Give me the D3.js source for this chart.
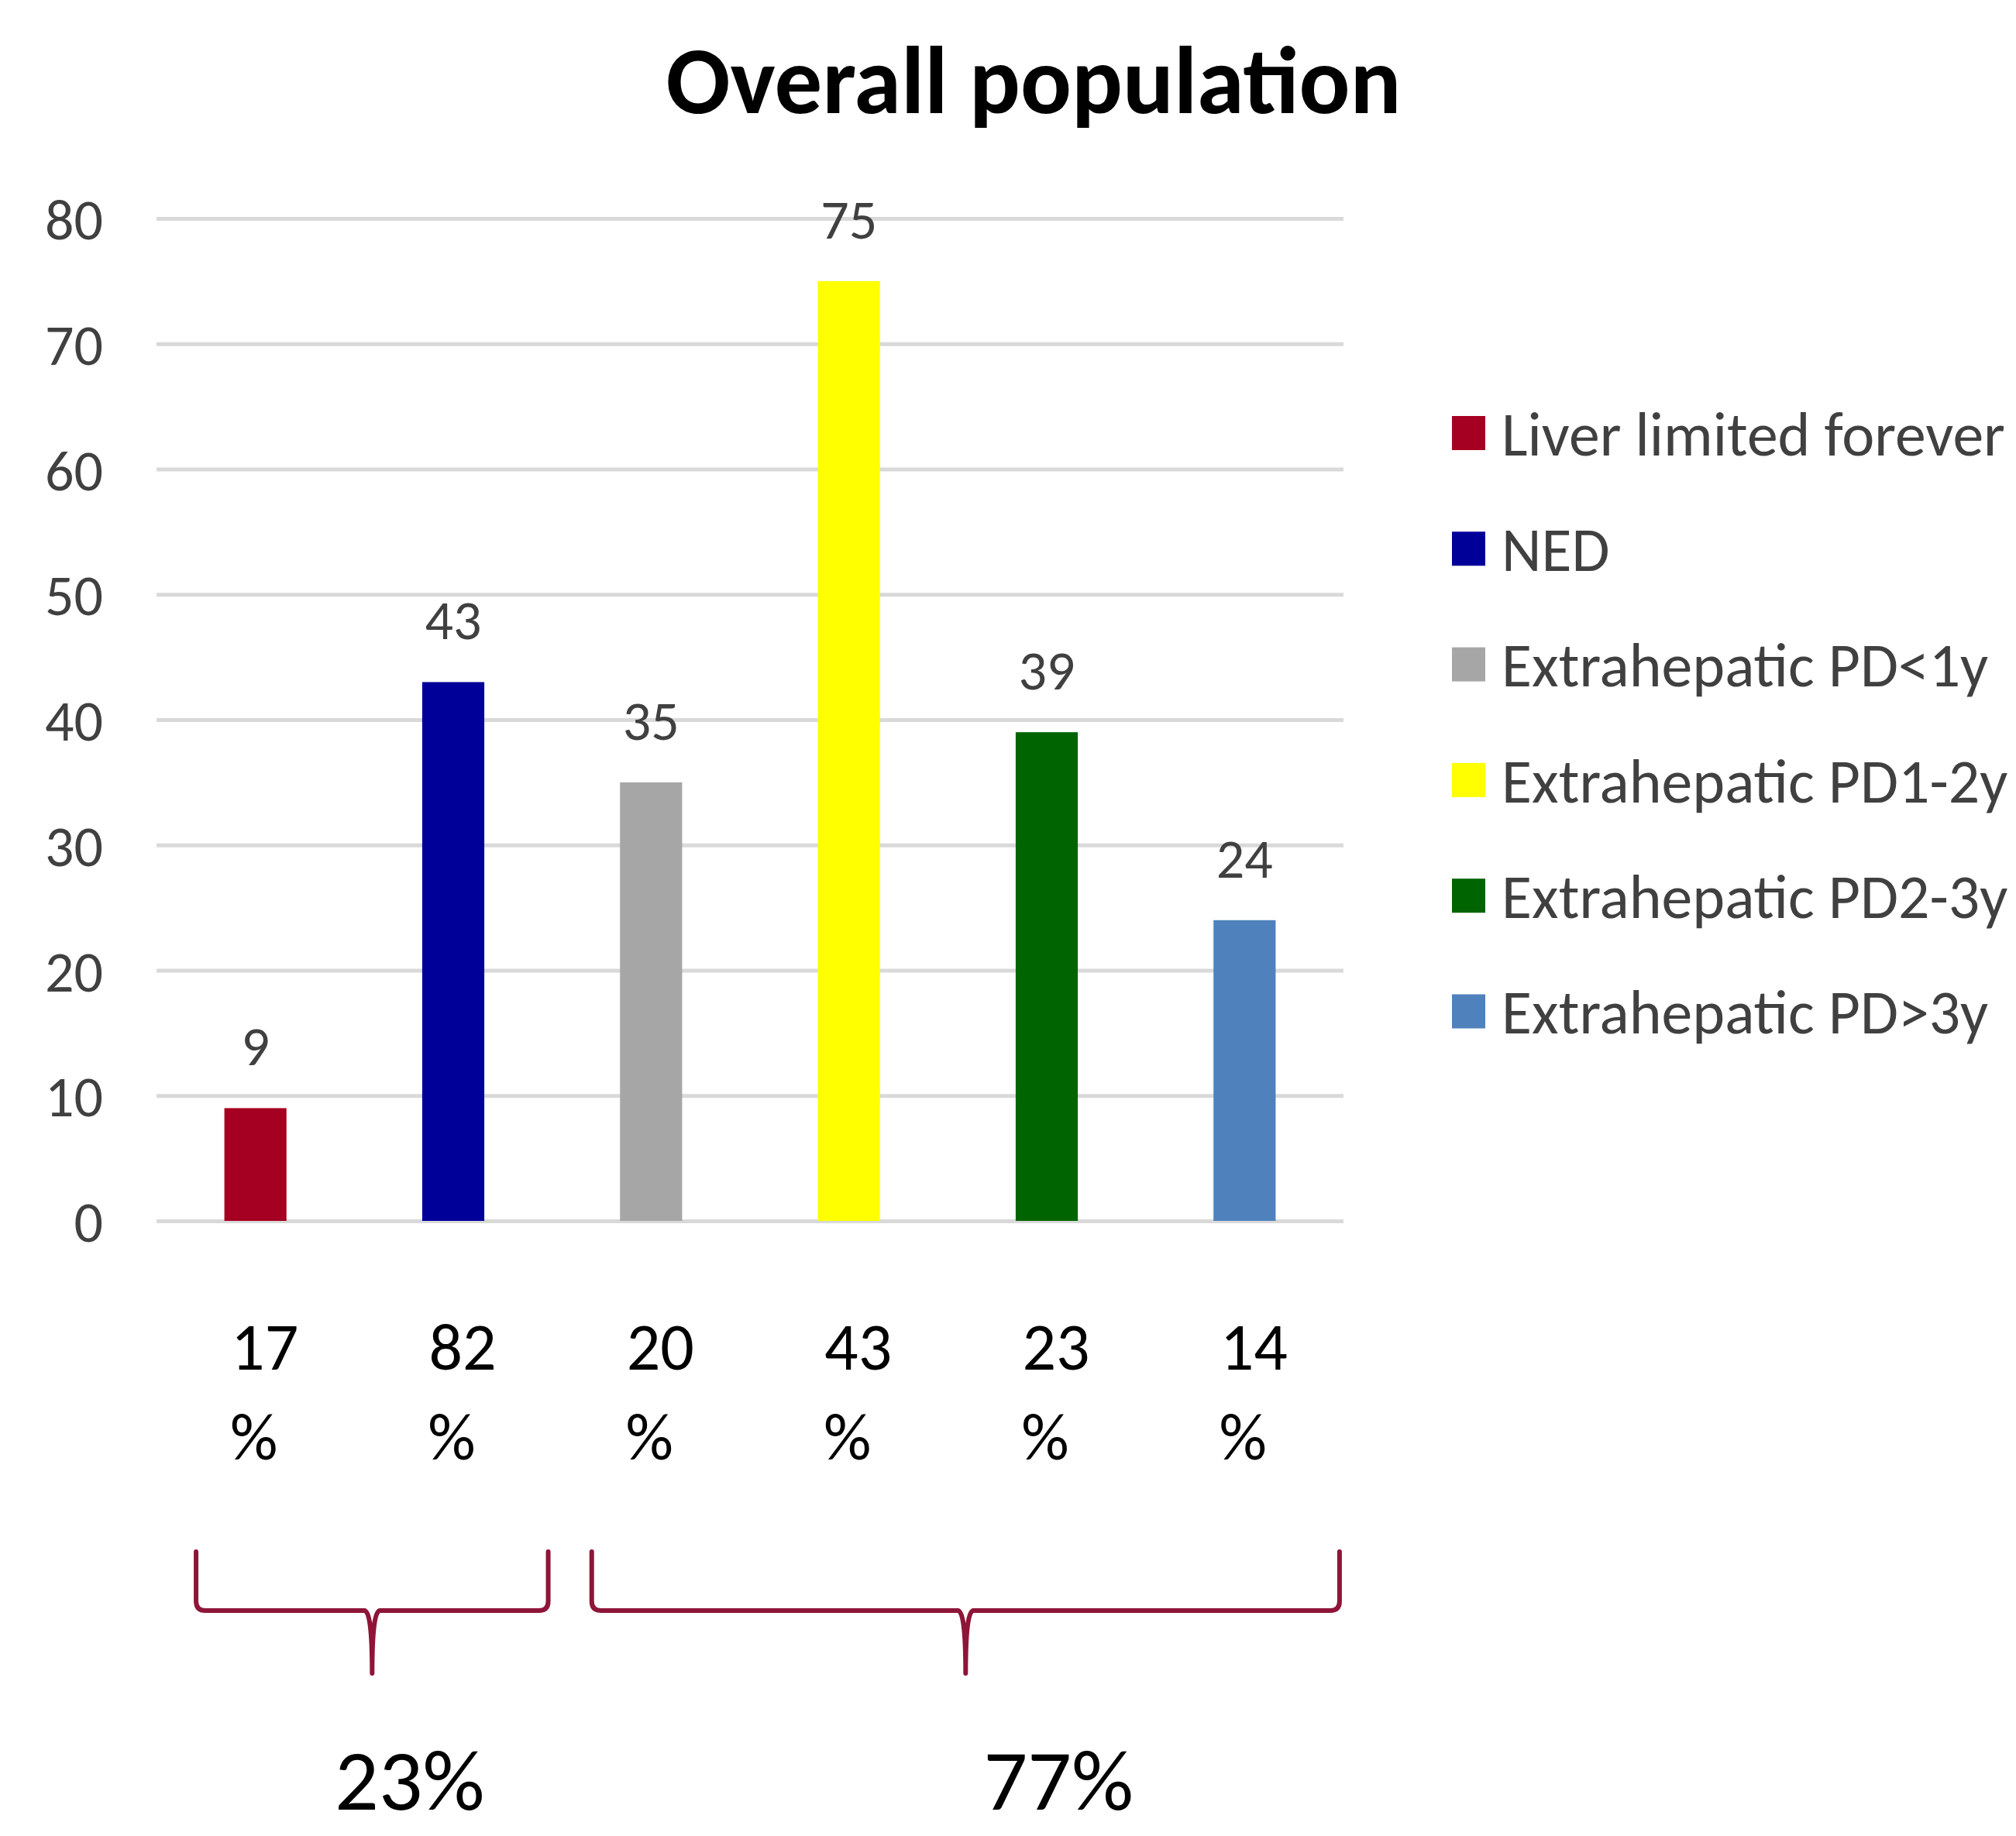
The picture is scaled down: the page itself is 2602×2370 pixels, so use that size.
<!DOCTYPE html>
<html>
<head>
<meta charset="utf-8">
<script src="https://cdn.jsdelivr.net/npm/d3@7"></script>
<style>
  html, body { margin: 0; padding: 0; background: #ffffff; }
  svg { display: block; }
</style>
</head>
<body>
<svg id="chart" width="2602" height="2370"></svg>
<script>
// ---------- data ----------
const titleText = "Overall population";
const categories = ["Liver limited forever", "NED", "Extrahepatic PD<1y", "Extrahepatic PD1-2y", "Extrahepatic PD2-3y", "Extrahepatic PD>3y"];
const values = [9, 43, 35, 75, 39, 24];
const percentLabels = ["17", "82", "20", "43", "23", "14"];
const barColors = ["#A50021", "#000099", "#A6A6A6", "#FFFF00", "#006400", "#4F81BD"];
const yTicks = [0, 10, 20, 30, 40, 50, 60, 70, 80];
const groupLabels = ["23%", "77%"];
const groupFrom = [0, 2];
const groupTo = [1, 5];

// ---------- layout ----------
const FONT = "Carlito, Calibri, Lato, 'Open Sans', sans-serif";
const svg = d3.select("#chart");
const W = 2602, H = 2370;
svg.append("rect").attr("width", W).attr("height", H).attr("fill", "#ffffff");

const plot = { left: 202, right: 1734, top: 282, bottom: 1576 };

const x = d3.scaleBand().domain(categories).range([plot.left, plot.right]).paddingInner(0.686).paddingOuter(0.343);
const step = (plot.right - plot.left) / categories.length;
const y = d3.scaleLinear().domain([0, 80]).range([plot.bottom, plot.top]);

function fitWidth(sel, target) {
  const fs = parseFloat(sel.attr("font-size"));
  const w = sel.node().getComputedTextLength();
  if (w > 0) sel.attr("font-size", (fs * target / w).toFixed(2));
}

// title
const title = svg.append("text")
  .attr("x", 1334).attr("y", 146)
  .attr("text-anchor", "middle")
  .attr("font-family", FONT).attr("font-weight", "bold")
  .attr("font-size", 110).attr("fill", "#000000")
  .text(titleText);
fitWidth(title, 949);

// gridlines + y axis via d3.axisLeft
const yAxis = d3.axisLeft(y).tickValues(yTicks).tickSize(-(plot.right - plot.left)).tickPadding(69).tickFormat(d3.format("d"));
const gAxis = svg.append("g").attr("transform", `translate(${plot.left},0)`).call(yAxis);
gAxis.select(".domain").remove();
gAxis.selectAll(".tick line").attr("stroke", "#D9D9D9").attr("stroke-width", 5);
gAxis.selectAll(".tick text")
  .attr("font-family", FONT).attr("font-size", 74).attr("fill", "#404040")
  .attr("dy", "0.36em");

// bars
svg.append("g").selectAll("rect").data(categories).join("rect")
  .attr("x", d => x(d))
  .attr("y", (d, i) => y(values[i]))
  .attr("width", x.bandwidth())
  .attr("height", (d, i) => y(0) - y(values[i]))
  .attr("fill", (d, i) => barColors[i]);

// value labels
svg.append("g").selectAll("text").data(categories).join("text")
  .attr("x", d => x(d) + x.bandwidth() / 2)
  .attr("y", (d, i) => y(values[i]) - 55)
  .attr("text-anchor", "middle")
  .attr("font-family", FONT).attr("font-size", 72).attr("fill", "#404040")
  .text((d, i) => values[i]);

// percent labels under bars (two lines)
const pct = svg.append("g").selectAll("g").data(categories).join("g");
pct.append("text")
  .attr("x", d => x(d) + x.bandwidth() / 2 + 12)
  .attr("y", 1768)
  .attr("text-anchor", "middle")
  .attr("font-family", FONT).attr("font-size", 86).attr("fill", "#000000")
  .text((d, i) => percentLabels[i]);
pct.append("text")
  .attr("x", d => x(d) + x.bandwidth() / 2 - 2)
  .attr("y", 1884)
  .attr("text-anchor", "middle")
  .attr("font-family", FONT).attr("font-size", 86).attr("fill", "#000000")
  .text("%");

// braces
const braceTop = 2003, braceLine = 2079, braceTip = 2160;
const braceG = svg.append("g");
groupLabels.forEach((lab, gi) => {
  const bandStart = x(categories[groupFrom[gi]]) - x.step() * x.paddingInner() / 2;
  const bandEnd = x(categories[groupTo[gi]]) + x.bandwidth() + x.step() * x.paddingInner() / 2;
  const x0 = bandStart + step * 0.2;
  const x1 = bandEnd - step * 0.02;
  const mid = (x0 + x1) / 2;
  const r = 12, c = 10;
  const p = d3.path();
  p.moveTo(x0, braceTop);
  p.lineTo(x0, braceLine - r);
  p.quadraticCurveTo(x0, braceLine, x0 + r, braceLine);
  p.lineTo(mid - c, braceLine);
  p.quadraticCurveTo(mid, braceLine, mid, braceTip);
  p.quadraticCurveTo(mid, braceLine, mid + c, braceLine);
  p.lineTo(x1 - r, braceLine);
  p.quadraticCurveTo(x1, braceLine, x1, braceLine - r);
  p.lineTo(x1, braceTop);
  braceG.append("path").attr("d", p.toString())
    .attr("fill", "none").attr("stroke", "#8E1538").attr("stroke-width", 6)
    .attr("stroke-linejoin", "round").attr("stroke-linecap", "round");

  svg.append("text")
    .attr("x", bandStart + (bandEnd - bandStart) * 0.64)
    .attr("y", 2336)
    .attr("text-anchor", "middle")
    .attr("font-family", FONT).attr("font-size", 112).attr("fill", "#000000")
    .text(lab);
});

// legend
const legendTop = 559, legendStep = 149.3;
const lg = svg.append("g").selectAll("g").data(categories).join("g")
  .attr("transform", (d, i) => `translate(1874,${legendTop + i * legendStep})`);
lg.append("rect").attr("x", 0).attr("y", -22).attr("width", 43).attr("height", 44)
  .attr("fill", (d, i) => barColors[i]);
const legTexts = lg.append("text").attr("x", 64).attr("y", 0).attr("dy", "0.36em")
  .attr("font-family", FONT).attr("font-size", 80).attr("fill", "#404040")
  .text(d => d);
// scale legend font so that the first entry spans the same width as in the reference
{
  const first = legTexts.filter((d, i) => i === 0);
  const w = first.node().getComputedTextLength();
  const fs = 80 * 650 / w;
  legTexts.attr("font-size", fs.toFixed(2));
}
</script>
</body>
</html>
